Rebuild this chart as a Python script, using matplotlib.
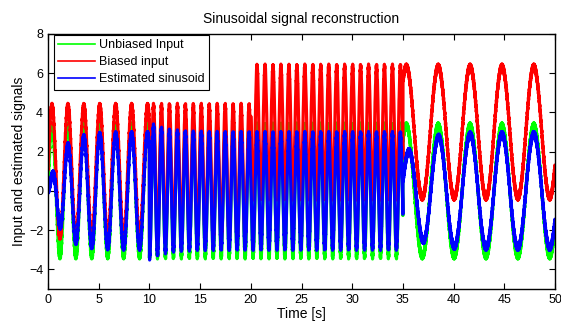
import numpy as np
import matplotlib
matplotlib.use("Agg")
import matplotlib.pyplot as plt

# ---- signal description ----
seg_start = [0, 10, 20, 35]          # s
seg_end = [10, 20, 35, 50]           # s
seg_omega = [4, 8, 8, 2]             # rad/s
seg_bias = [1, 1, 3, 3]              # bias added to the biased input
amplitude = 3.35                     # unbiased input amplitude
ripple_amp = 0.12                    # measurement ripple amplitude
ripple_omega = 157.0                 # rad/s
est_gain_ss = 0.87                   # steady-state estimate gain
est_gain_start = [0.0, 1.02, 0.87, 0.5]
est_lag_start = [0.0, 0.0, 0.0, 0.6]  # rad
est_tau = [1.2, 1.5, 1.0, 1.6]       # s

x_ticks = [0, 5, 10, 15, 20, 25, 30, 35, 40, 45, 50]
y_ticks = [-4, -2, 0, 2, 4, 6, 8]

plt.rcParams["font.family"] = ["Liberation Sans", "DejaVu Sans"]

t = np.arange(0.0, 50.0 + 1e-9, 0.002)
unbiased = np.zeros_like(t)
biased = np.zeros_like(t)
estimate = np.zeros_like(t)
for k in range(len(seg_start)):
    m = (t >= seg_start[k]) & (t <= seg_end[k])
    tt = t[m]
    dt = tt - seg_start[k]
    decay = np.exp(-dt / est_tau[k])
    base = amplitude * np.sin(seg_omega[k] * tt)
    unbiased[m] = base + ripple_amp * np.sin(ripple_omega * tt)
    biased[m] = base + seg_bias[k] + ripple_amp * np.cos(ripple_omega * tt + 0.7)
    gain = est_gain_ss + (est_gain_start[k] - est_gain_ss) * decay
    lag = est_lag_start[k] * decay
    estimate[m] = gain * amplitude * np.sin(seg_omega[k] * tt - lag) \
        + ripple_amp * np.sin(ripple_omega * tt + 2.1)

fig = plt.figure(figsize=(5.61, 3.24), dpi=100)
ax = fig.add_axes([48 / 561, 1 - 289 / 324, (555 - 48) / 561, (289 - 34) / 324])

ax.plot(t, unbiased, color=(0, 1, 0), lw=2.3, label="Unbiased Input")
ax.plot(t, biased, color=(1, 0, 0), lw=2.3, label="Biased input")
ax.plot(t, estimate, color=(0, 0, 1), lw=2.3, label="Estimated sinusoid")

ax.set_xlim(0, 50)
ax.set_ylim(-5, 8)
ax.set_xticks(x_ticks)
ax.set_yticks(y_ticks)
ax.tick_params(direction="in", top=True, right=True, labelsize=9, length=4)
for s in ax.spines.values():
    s.set_linewidth(1.0)
ax.set_title("Sinusoidal signal reconstruction", fontsize=10, pad=8)
ax.set_xlabel("Time [s]", fontsize=10, labelpad=1)
ax.set_ylabel("Input and estimated signals", fontsize=10, labelpad=2)

leg = ax.legend(loc="upper left", bbox_to_anchor=(6 / 507, 1 - 1 / 255),
                fontsize=9, frameon=True, fancybox=False,
                edgecolor="black", framealpha=1, handlelength=2.9,
                borderaxespad=0.0, borderpad=0.35, labelspacing=0.4,
                handletextpad=0.35)
leg.get_frame().set_linewidth(0.8)
for line in leg.get_lines():
    line.set_linewidth(1.2)

fig.savefig("out.png", dpi=100)
